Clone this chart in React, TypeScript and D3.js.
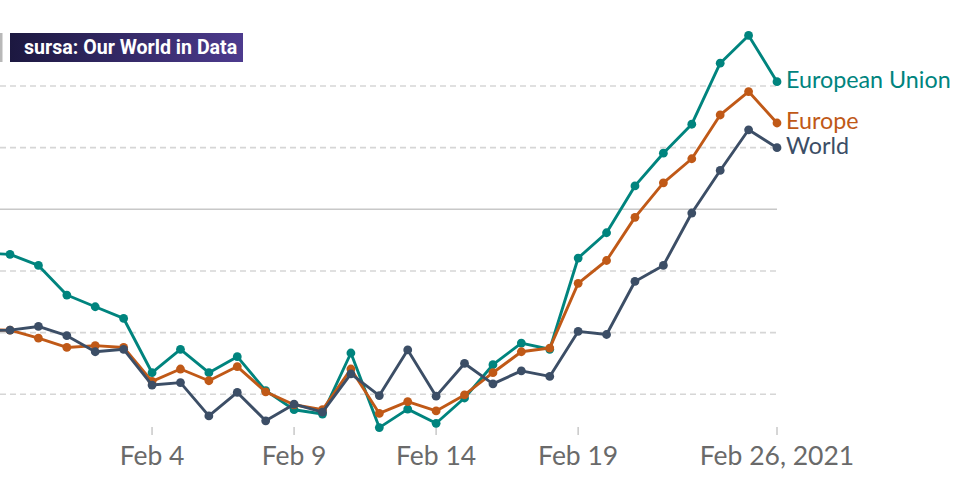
import React from "react";
import * as d3 from "d3";

const W = 969;
const H = 479;

// Dates: Jan 29 .. Feb 26, 2021
const startDate = new Date(2021, 0, 29);
const dates: Date[] = d3.range(29).map((i) => d3.timeDay.offset(startDate, i));

// values in axis units (gridlines at integers, 0 solid)
const euValues = [
  -0.71, -0.73, -0.91, -1.39, -1.58, -1.77, -2.65, -2.27, -2.65, -2.39, -2.94, -3.25, -3.32, -2.33,
  -3.54, -3.24, -3.47, -3.06, -2.52, -2.17, -2.27, -0.79, -0.38, 0.38, 0.91, 1.38, 2.37, 2.82, 2.07,
];
const europeValues = [
  -1.95, -1.96, -2.09, -2.24, -2.21, -2.24, -2.79, -2.59, -2.78, -2.55, -2.96, -3.17, -3.25, -2.59,
  -3.31, -3.12, -3.27, -3.01, -2.65, -2.31, -2.25, -1.2, -0.83, -0.13, 0.43, 0.82, 1.53, 1.91, 1.4,
];
const worldValues = [
  -1.97, -1.96, -1.9, -2.05, -2.31, -2.27, -2.85, -2.81, -3.35, -2.97, -3.43, -3.16, -3.29, -2.67,
  -3.02, -2.28, -3.03, -2.5, -2.83, -2.62, -2.71, -1.98, -2.03, -1.17, -0.91, -0.06, 0.63, 1.29, 1.0,
];

const seriesNames = ["European Union", "Europe", "World"];
const seriesColors = ["#00847e", "#c05917", "#3c4e66"];
const seriesValues = [euValues, europeValues, worldValues];

const gridValues = [-3, -2, -1, 0, 1, 2];
const tickDates = [
  new Date(2021, 0, 27),
  new Date(2021, 1, 4),
  new Date(2021, 1, 9),
  new Date(2021, 1, 14),
  new Date(2021, 1, 19),
  new Date(2021, 1, 26),
];
const tickLabels = ["Jan 27, 2021", "Feb 4", "Feb 9", "Feb 14", "Feb 19", "Feb 26, 2021"];
const badgeText = "sursa: Our World in Data";

export default function App() {
  const x = d3
    .scaleTime()
    .domain([new Date(2021, 0, 27), new Date(2021, 1, 26)])
    .range([-75.2, 777]);
  const y = d3.scaleLinear().domain([-3, 2]).range([394.3, 86]);

  const line = d3
    .line<number>()
    .x((_, i) => x(dates[i]))
    .y((d) => y(d));

  return (
    <svg
      width={W}
      height={H}
      style={{ position: "absolute", left: 0, top: 0, background: "#fff" }}
      fontFamily="Lato, 'Open Sans', sans-serif"
    >
      <defs>
        <linearGradient id="badge" x1="0" x2="1" y1="0" y2="0">
          <stop offset="0%" stopColor="#1c1840" />
          <stop offset="100%" stopColor="#4d3b8e" />
        </linearGradient>
      </defs>
      <rect x={0} y={0} width={W} height={H} fill="#fff" />
      {gridValues.map((g) => (
        <line
          key={g}
          x1={0}
          x2={777}
          y1={y(g)}
          y2={y(g)}
          stroke={g === 0 ? "#c8c8c8" : "#d6d6d6"}
          strokeWidth={1.6}
          strokeDasharray={g === 0 ? undefined : "6,4"}
        />
      ))}
      {tickDates.map((t, i) => (
        <g key={i}>
          <line x1={x(t)} x2={x(t)} y1={427} y2={435} stroke="#c8c8c8" strokeWidth={1.5} />
          <text x={x(t)} y={465} textAnchor="middle" fontSize={26.5} fill="#6a6a6a">
            {tickLabels[i]}
          </text>
        </g>
      ))}
      {seriesValues.map((vals, si) => (
        <g key={si}>
          <path
            d={line(vals) || ""}
            fill="none"
            stroke={seriesColors[si]}
            strokeWidth={2.9}
            strokeLinejoin="round"
          />
          {vals.map((v, i) => (
            <circle key={i} cx={x(dates[i])} cy={y(v)} r={4.4} fill={seriesColors[si]} />
          ))}
          <text x={786} y={y(vals[vals.length - 1]) + 6} fontSize={23.3} fill={seriesColors[si]}>
            {seriesNames[si]}
          </text>
        </g>
      ))}
      <rect x={0} y={33} width={2.5} height={29} fill="#b8b8b8" />
      <rect x={10} y={33} width={233} height={29} fill="url(#badge)" />
      <text
        x={24}
        y={54}
        fontFamily="Roboto, 'Noto Sans', sans-serif"
        fontWeight="bold"
        fontSize={19.6}
        fill="#ffffff"
      >
        {badgeText}
      </text>
    </svg>
  );
}
